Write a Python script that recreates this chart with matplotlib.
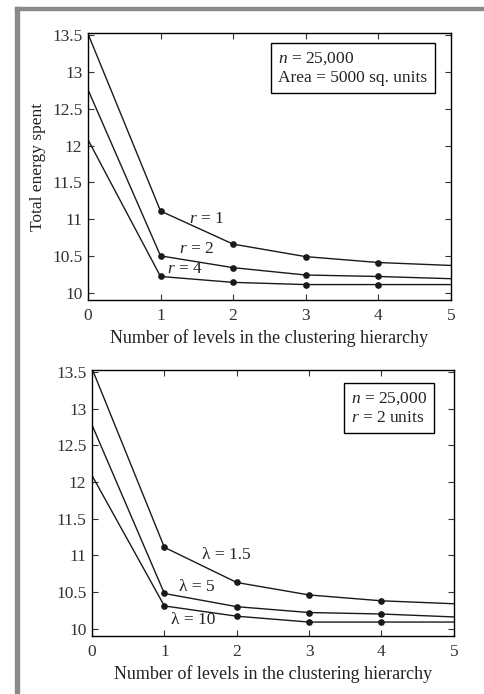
import numpy as np
import matplotlib
matplotlib.use("Agg")
import matplotlib.pyplot as plt
from matplotlib.patches import Rectangle

plt.rcParams['font.family'] = ['Liberation Serif', 'DejaVu Serif']
plt.rcParams['mathtext.fontset'] = 'custom'
plt.rcParams['mathtext.rm'] = 'Liberation Serif'
plt.rcParams['mathtext.it'] = 'Liberation Serif:italic'

# number of levels in the clustering hierarchy
levels = [0, 1, 2, 3, 4, 5]

# top panel: varying radio range r
energy_r1 = [13.52, 11.11, 10.66, 10.49, 10.41, 10.37]
energy_r2 = [12.76, 10.50, 10.34, 10.24, 10.22, 10.19]
energy_r4 = [12.08, 10.22, 10.14, 10.11, 10.11, 10.11]
r_labels = ["$r$ = 1", "$r$ = 2", "$r$ = 4"]
r_label_pos = [(1.63, 11.0), (1.5, 10.6), (1.33, 10.32)]

# bottom panel: varying lambda
energy_l15 = [13.55, 11.11, 10.63, 10.46, 10.38, 10.34]
energy_l5 = [12.78, 10.48, 10.30, 10.22, 10.20, 10.16]
energy_l10 = [12.09, 10.31, 10.17, 10.09, 10.09, 10.09]
l_labels = ["λ = 1.5", "λ = 5", "λ = 10"]
l_label_pos = [(1.86, 11.01), (1.45, 10.57), (1.4, 10.12)]

yticks = [10, 10.5, 11, 11.5, 12, 12.5, 13, 13.5]
ytick_labels = ["10", "10.5", "11", "11.5", "12", "12.5", "13", "13.5"]


def style_axes(ax):
    ax.set_xlim(0, 5)
    ax.set_ylim(9.9, 13.53)
    ax.set_xticks(levels)
    ax.set_yticks(yticks)
    ax.set_yticklabels(ytick_labels)
    ax.tick_params(direction='in', top=True, right=True, length=4, width=0.8,
                   labelsize=12.5, colors='#333333', pad=4)
    ax.tick_params(axis='x', pad=6)
    for s in ax.spines.values():
        s.set_linewidth(1.0)
    ax.set_xlabel("Number of levels in the clustering hierarchy", fontsize=13,
                  labelpad=3.5, color='#222222')


def draw_series(ax, series, labels, positions):
    for ys in series:
        ax.plot(levels, ys, color='#1a1a1a', lw=1.0, marker='o', ms=3.8,
                markevery=[1, 2, 3, 4])
    for lab, (x, y) in zip(labels, positions):
        ax.text(x, y, lab, fontsize=12.5, ha='center', va='center', color='#222222')


fig = plt.figure(figsize=(4.85, 6.94), dpi=100)

# grey page frame
fig.patches.append(Rectangle((15 / 485, 0), 4 / 485, 1 - 7 / 694, transform=fig.transFigure,
                             color='#8a8a8a', zorder=0))
fig.patches.append(Rectangle((15 / 485, 1 - 10 / 694), 1, 3 / 694, transform=fig.transFigure,
                             color='#8a8a8a', zorder=0))

ax1 = fig.add_axes([0.1814, 0.5677, 0.748, 0.3847])
draw_series(ax1, [energy_r1, energy_r2, energy_r4], r_labels, r_label_pos)
style_axes(ax1)
ax1.set_ylabel("Total energy spent", fontsize=12.5, labelpad=4, color='#222222')
ax1.text(0.525, 0.935, "$n$ = 25,000\nArea = 5000 sq. units", transform=ax1.transAxes,
         fontsize=12.5, va='top', ha='left', linespacing=1.25, color='#222222',
         bbox=dict(boxstyle='square,pad=0.4', fc='white', ec='black', lw=1.0))

ax2 = fig.add_axes([0.1897, 0.0836, 0.746, 0.3833])
draw_series(ax2, [energy_l15, energy_l5, energy_l10], l_labels, l_label_pos)
style_axes(ax2)
ax2.text(0.715, 0.925, "$n$ = 25,000\n$r$ = 2 units", transform=ax2.transAxes,
         fontsize=12.5, va='top', ha='left', linespacing=1.25, color='#222222',
         bbox=dict(boxstyle='square,pad=0.4', fc='white', ec='black', lw=1.0))

fig.savefig("out.png", dpi=100)
